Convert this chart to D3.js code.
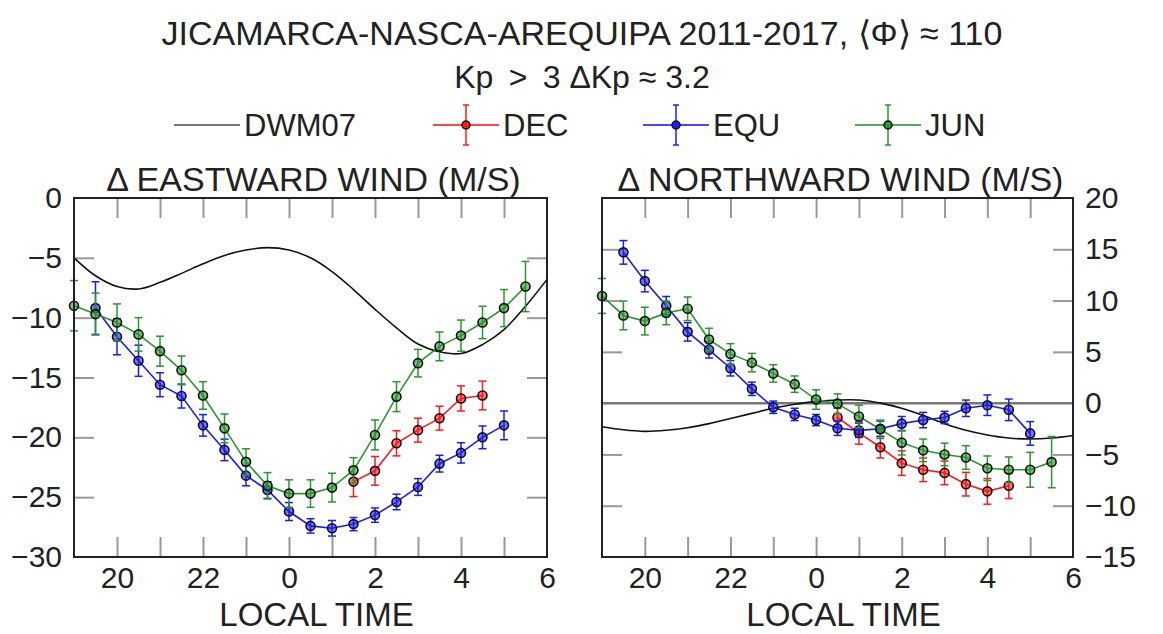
<!DOCTYPE html>
<html>
<head>
<meta charset="utf-8">
<script src="https://cdn.jsdelivr.net/npm/d3@7"></script>
<style>
  body { margin: 0; background: #fff; }
  text { font-family: "Liberation Sans", Arial, sans-serif; fill: #222; }
</style>
</head>
<body>
<svg id="chart" width="1163" height="634"></svg>
<script>
// Local time in hours (24 = midnight, so 28 = 04 LT)
const hoursAll = [19, 19.5, 20, 20.5, 21, 21.5, 22, 22.5, 23, 23.5, 24, 24.5, 25, 25.5, 26, 26.5, 27, 27.5, 28, 28.5, 29, 29.5];
const hoursEqu = [19.5, 20, 20.5, 21, 21.5, 22, 22.5, 23, 23.5, 24, 24.5, 25, 25.5, 26, 26.5, 27, 27.5, 28, 28.5, 29];
const hoursDecEast = [25.5, 26, 26.5, 27, 27.5, 28, 28.5];
const hoursDecNorth = [24.5, 25, 25.5, 26, 26.5, 27, 27.5, 28, 28.5];
const hoursModel = [19, 19.5, 20, 20.5, 21, 21.5, 22, 22.5, 23, 23.5, 24, 24.5, 25, 25.5, 26, 26.5, 27, 27.5, 28, 28.5, 29, 29.5, 30];

// Eastward wind (m/s)
const eastJun = [-9.0, -9.7, -10.4, -11.4, -12.8, -14.4, -16.5, -19.25, -22.05, -24.05, -24.7, -24.7, -24.2, -22.75, -19.8, -16.6, -13.8, -12.4, -11.5, -10.4, -9.2, -7.4];
const eastJunErr = [2.1, 1.75, 1.55, 1.4, 1.25, 1.2, 1.15, 1.2, 1.1, 1.1, 1.15, 1.15, 1.2, 1.05, 1.25, 1.25, 1.15, 1.2, 1.3, 1.35, 1.55, 2.1];
const eastEqu = [-9.2, -11.6, -13.6, -15.6, -16.55, -19.0, -21.05, -23.2, -24.4, -26.2, -27.4, -27.6, -27.25, -26.5, -25.4, -24.15, -22.2, -21.3, -20.0, -19.0];
const eastEquErr = [2.2, 1.5, 1.3, 1.0, 1.0, 0.9, 0.9, 0.85, 0.7, 0.75, 0.6, 0.65, 0.55, 0.6, 0.65, 0.7, 0.7, 0.85, 0.95, 1.2];
const eastDec = [-23.7, -22.8, -20.5, -19.4, -18.4, -16.75, -16.5];
const eastDecErr = [1.25, 1.2, 1.05, 1.0, 1.0, 1.05, 1.2];
const eastModel = [-5.0, -6.5, -7.4, -7.6, -7.05, -6.3, -5.5, -4.8, -4.35, -4.15, -4.35, -5.0, -6.15, -7.65, -9.3, -10.85, -12.2, -12.85, -13.0, -12.25, -11.0, -9.05, -6.8];

// Northward wind (m/s)
const northJun = [10.45, 8.55, 8.0, 8.8, 9.2, 6.2, 4.8, 3.95, 2.9, 1.85, 0.35, -0.05, -1.3, -2.55, -3.85, -4.6, -5.0, -5.3, -6.35, -6.5, -6.5, -5.75];
const northJunErr = [1.7, 1.4, 1.35, 1.15, 1.15, 1.1, 1.0, 0.9, 0.85, 0.8, 0.95, 0.95, 1.1, 0.9, 1.2, 1.1, 1.1, 1.15, 1.2, 1.25, 1.7, 2.5];
const northEqu = [14.7, 11.9, 9.5, 6.95, 5.2, 3.4, 1.4, -0.4, -1.1, -1.65, -2.45, -2.65, -2.5, -2.0, -1.65, -1.4, -0.5, -0.2, -0.65, -2.95];
const northEquErr = [1.15, 1.05, 0.9, 0.9, 0.8, 0.75, 0.65, 0.6, 0.6, 0.55, 0.7, 0.7, 0.75, 0.7, 0.75, 0.6, 0.8, 1.0, 1.05, 1.15];
const northDec = [-1.4, -2.9, -4.3, -5.85, -6.5, -6.8, -7.9, -8.6, -8.05];
const northDecErr = [0.9, 1.1, 1.05, 1.2, 1.15, 1.15, 1.15, 1.25, 1.25];
const northModel = [-2.3, -2.6, -2.75, -2.65, -2.4, -2.0, -1.5, -1.0, -0.5, -0.1, 0.15, 0.3, 0.3, 0.0, -0.5, -1.2, -2.0, -2.65, -3.1, -3.4, -3.5, -3.4, -3.15];

const minorTicks = [20, 21, 22, 23, 24, 25, 26, 27, 28, 29];
const labelTicks = [20, 22, 24, 26, 28, 30];
const eastTicks = [0, -5, -10, -15, -20, -25, -30];
const northTicks = [20, 15, 10, 5, 0, -5, -10, -15];

const legendNames = ['DWM07', 'DEC', 'EQU', 'JUN'];
const colors = {DEC: '#ff1a1a', EQU: '#1a1aff', JUN: '#2a962e'};

const zip = (xs, ys, es) => xs.map((h, i) => ({h: h, v: ys[i], e: es ? es[i] : 0}));

const panels = [
  {
    title: '\u0394 EASTWARD WIND (M/S)', left: 74, right: 547, domain: [-30, 0], ticks: eastTicks, side: 'left',
    model: zip(hoursModel, eastModel),
    series: [
      {name: 'DEC', pts: zip(hoursDecEast, eastDec, eastDecErr)},
      {name: 'EQU', pts: zip(hoursEqu, eastEqu, eastEquErr)},
      {name: 'JUN', pts: zip(hoursAll, eastJun, eastJunErr)}
    ]
  },
  {
    title: '\u0394 NORTHWARD WIND (M/S)', left: 602, right: 1073, domain: [-15, 20], ticks: northTicks, side: 'right', zero: true,
    model: zip(hoursModel, northModel),
    series: [
      {name: 'DEC', pts: zip(hoursDecNorth, northDec, northDecErr)},
      {name: 'EQU', pts: zip(hoursEqu, northEqu, northEquErr)},
      {name: 'JUN', pts: zip(hoursAll, northJun, northJunErr)}
    ]
  }
];

const svg = d3.select('#chart');
const plotTop = 198, plotBottom = 557;

// Titles
svg.append('text').attr('x', 582).attr('y', 45).attr('text-anchor', 'middle')
  .attr('font-size', 34).text('JICAMARCA-NASCA-AREQUIPA 2011-2017, \u27E8\u03A6\u27E9 \u2248 110');
svg.append('text').attr('x', 582).attr('y', 88).attr('text-anchor', 'middle')
  .attr('font-size', 32).attr('xml:space', 'preserve').text('Kp \u2009>\u2009 3 \u0394Kp \u2248 3.2');

// Legend
const legendX = [174, 433, 643, 855];
const lg = svg.append('g').attr('class', 'legend');
legendNames.forEach((name, i) => {
  const g = lg.append('g').attr('transform', `translate(${legendX[i]},125)`);
  const c = colors[name] || '#555';
  g.append('line').attr('x1', 0).attr('x2', 66).attr('stroke', c).attr('stroke-width', 2).attr('opacity', 0.8);
  if (name !== 'DWM07') {
    g.append('line').attr('x1', 33).attr('x2', 33).attr('y1', -20).attr('y2', 20).attr('stroke', c).attr('stroke-width', 1.5);
    [-20, 20].forEach(dy => g.append('line').attr('x1', 30).attr('x2', 36).attr('y1', dy).attr('y2', dy).attr('stroke', c).attr('stroke-width', 1.5));
    g.append('circle').attr('cx', 33).attr('r', 4).attr('fill', c).attr('stroke', '#111').attr('stroke-width', 1.5);
  }
  g.append('text').attr('x', 70).attr('y', 11).attr('font-size', 31).text(name);
});

panels.forEach(p => {
  const x = d3.scaleLinear().domain([19, 30]).range([p.left, p.right]);
  const y = d3.scaleLinear().domain(p.domain).range([plotBottom, plotTop]);
  const g = svg.append('g');

  g.append('text').attr('x', (p.left + p.right) / 2 + 3).attr('y', 191).attr('text-anchor', 'middle')
    .attr('font-size', 34).text(p.title);

  // inward tick marks on all four sides
  const tickStyle = sel => {
    sel.select('.domain').remove();
    sel.selectAll('.tick line').attr('stroke', '#999').attr('stroke-width', 2);
  };
  g.append('g').attr('transform', `translate(0,${plotBottom})`)
    .call(d3.axisBottom(x).tickValues(minorTicks).tickSize(-20).tickFormat('')).call(tickStyle);
  g.append('g').attr('transform', `translate(0,${plotTop})`)
    .call(d3.axisTop(x).tickValues(minorTicks).tickSize(-20).tickFormat('')).call(tickStyle);
  const innerY = p.ticks.slice(1, -1).filter(v => !(p.zero && v === 0));
  g.append('g').attr('transform', `translate(${p.left},0)`)
    .call(d3.axisLeft(y).tickValues(innerY).tickSize(-20).tickFormat('')).call(tickStyle);
  g.append('g').attr('transform', `translate(${p.right},0)`)
    .call(d3.axisRight(y).tickValues(innerY).tickSize(-20).tickFormat('')).call(tickStyle);

  // tick labels
  const xl = g.append('g').attr('transform', `translate(0,${plotBottom})`)
    .call(d3.axisBottom(x).tickValues(labelTicks).tickSize(0).tickPadding(10).tickFormat(d => d % 24));
  xl.select('.domain').remove();
  xl.selectAll('text').attr('font-size', 30).attr('font-family', '"Liberation Sans", Arial, sans-serif').attr('fill', '#222');
  const yAxis = p.side === 'left' ? d3.axisLeft(y) : d3.axisRight(y);
  const yl = g.append('g').attr('transform', `translate(${p.side === 'left' ? p.left : p.right},0)`)
    .call(yAxis.tickValues(p.ticks).tickSize(0).tickPadding(12));
  yl.select('.domain').remove();
  yl.selectAll('text').attr('font-size', 30).attr('font-family', '"Liberation Sans", Arial, sans-serif').attr('fill', '#222');

  g.append('text').attr('x', (p.left + p.right) / 2 + 6).attr('y', 626).attr('text-anchor', 'middle')
    .attr('font-size', 33).text('LOCAL TIME');

  if (p.zero) {
    g.append('line').attr('x1', p.left).attr('x2', p.right).attr('y1', y(0)).attr('y2', y(0))
      .attr('stroke', '#777').attr('stroke-width', 2.5);
  }

  // DWM07 model curve
  g.append('path').datum(p.model)
    .attr('d', d3.line().x(d => x(d.h)).y(d => y(d.v)).curve(d3.curveCatmullRom))
    .attr('fill', 'none').attr('stroke', '#111').attr('stroke-width', 1.6);

  // observed series with error bars
  p.series.forEach(s => {
    const c = colors[s.name];
    const sg = g.append('g');
    sg.append('path').datum(s.pts)
      .attr('d', d3.line().x(d => x(d.h)).y(d => y(d.v)))
      .attr('fill', 'none').attr('stroke', c).attr('stroke-width', 1.6);
    const eb = sg.selectAll('g.err').data(s.pts).join('g').attr('class', 'err');
    eb.append('line').attr('x1', d => x(d.h)).attr('x2', d => x(d.h))
      .attr('y1', d => y(d.v - d.e)).attr('y2', d => y(d.v + d.e))
      .attr('stroke', c).attr('stroke-width', 1.5);
    eb.append('line').attr('x1', d => x(d.h) - 4).attr('x2', d => x(d.h) + 4)
      .attr('y1', d => y(d.v - d.e)).attr('y2', d => y(d.v - d.e))
      .attr('stroke', c).attr('stroke-width', 1.5);
    eb.append('line').attr('x1', d => x(d.h) - 4).attr('x2', d => x(d.h) + 4)
      .attr('y1', d => y(d.v + d.e)).attr('y2', d => y(d.v + d.e))
      .attr('stroke', c).attr('stroke-width', 1.5);
    sg.selectAll('circle').data(s.pts).join('circle')
      .attr('cx', d => x(d.h)).attr('cy', d => y(d.v)).attr('r', 4.5)
      .attr('fill', c).attr('fill-opacity', 0.6).attr('stroke', '#111').attr('stroke-width', 1.6);
  });

  // frame
  g.append('rect').attr('x', p.left).attr('y', plotTop).attr('width', p.right - p.left).attr('height', plotBottom - plotTop)
    .attr('fill', 'none').attr('stroke', '#222').attr('stroke-width', 2);
});
</script>
</body>
</html>
